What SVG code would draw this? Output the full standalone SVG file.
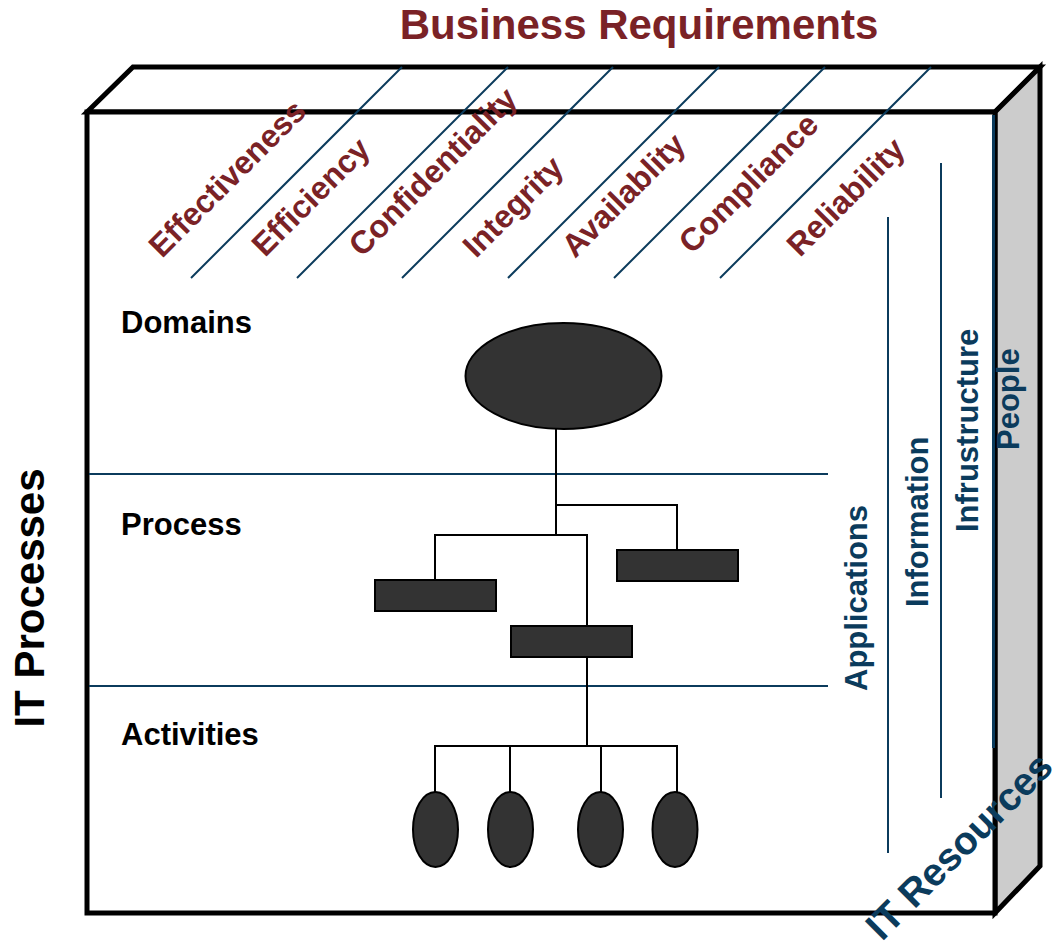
<svg xmlns="http://www.w3.org/2000/svg" width="1063" height="951" viewBox="0 0 1063 951">
<style>
.t{font-family:"Liberation Sans",Arial,sans-serif;font-weight:bold}
.red{fill:#7a2226}
.blue{fill:#0b3b5c}
.blk{fill:#000}
.edge{stroke:#000;stroke-width:5;stroke-linejoin:miter}
.bl{stroke:#0b3b5c;stroke-width:2;fill:none}
.cn{stroke:#000;stroke-width:2;fill:none}
.nd{fill:#333;stroke:#000;stroke-width:2}
</style>
<rect width="1063" height="951" fill="#fff"/>
<g id="cube">
<polygon class="edge" points="87,112 133,67 1040,67 995,112" fill="#fff"/>
<polygon class="edge" points="995,112 1040,67 1040,866 995,913" fill="#ccc"/>
<rect class="edge" x="87" y="112" width="908" height="801" fill="#fff"/>
<line x1="993.5" y1="115" x2="993.5" y2="748" stroke="#0b3b5c" stroke-width="3"/>
</g>
<g id="req-lines">
<line class="bl" x1="191" y1="278" x2="402" y2="67" stroke-width="1.5"/>
<line class="bl" x1="297" y1="278" x2="508" y2="67" stroke-width="1.5"/>
<line class="bl" x1="402" y1="278" x2="613" y2="67" stroke-width="1.5"/>
<line class="bl" x1="508" y1="278" x2="719" y2="67" stroke-width="1.5"/>
<line class="bl" x1="614" y1="278" x2="825" y2="67" stroke-width="1.5"/>
<line class="bl" x1="720" y1="278" x2="931" y2="67" stroke-width="1.5"/>
</g>
<g id="resource-lines">
<line class="bl" x1="888" y1="217" x2="888" y2="853"/>
<line class="bl" x1="941" y1="163" x2="941" y2="798"/>
</g>
<g id="level-lines">
<line class="bl" x1="89" y1="474" x2="828" y2="474"/>
<line class="bl" x1="89" y1="686" x2="828" y2="686"/>
</g>
<g id="title">
<text class="t red" x="639" y="39" font-size="42" text-anchor="middle">Business Requirements</text>
</g>
<g id="it-processes">
<text class="t blk" font-size="42" text-anchor="middle" transform="translate(44,598) rotate(-90)">IT Processes</text>
</g>
<g id="requirements">
<text class="t red" font-size="32" transform="translate(162,259) rotate(-45)">Effectiveness</text>
<text class="t red" font-size="32" transform="translate(265,258) rotate(-45)">Efficiency</text>
<text class="t red" font-size="32" transform="translate(362,258) rotate(-45)">Confidentiality</text>
<text class="t red" font-size="32" transform="translate(476,259) rotate(-45)">Integrity</text>
<text class="t red" font-size="32" transform="translate(575,259) rotate(-45)">Availablity</text>
<text class="t red" font-size="32" transform="translate(692,255) rotate(-45)">Compliance</text>
<text class="t red" font-size="32" transform="translate(800,258) rotate(-45)">Reliability</text>
</g>
<g id="levels">
<text class="t blk" x="121" y="333" font-size="31">Domains</text>
<text class="t blk" x="121" y="535" font-size="31">Process</text>
<text class="t blk" x="121" y="745" font-size="31">Activities</text>
</g>
<g id="resources">
<text class="t blue" font-size="31" transform="translate(867,691) rotate(-90)">Applications</text>
<text class="t blue" font-size="31" transform="translate(928,607) rotate(-90)">Information</text>
<text class="t blue" font-size="31" transform="translate(978,532) rotate(-90)">Infrustructure</text>
<text class="t blue" font-size="31" transform="translate(1019,450) rotate(-90)">People</text>
</g>
<g id="connectors">
<polyline class="cn" points="556,429 556,535"/>
<polyline class="cn" points="556,505 677,505 677,550"/>
<polyline class="cn" points="435,580 435,535 587,535 587,626"/>
<polyline class="cn" points="587,657 587,746"/>
<polyline class="cn" points="435,792 435,746 677,746 677,792"/>
<line class="cn" x1="510" y1="746" x2="510" y2="792"/>
<line class="cn" x1="601" y1="746" x2="601" y2="792"/>
</g>
<g id="domain-node"><ellipse class="nd" cx="563.5" cy="376" rx="98" ry="53"/></g>
<g id="process-1"><rect class="nd" x="375" y="580" width="121" height="31"/></g>
<g id="process-2"><rect class="nd" x="511" y="626" width="121" height="31"/></g>
<g id="process-3"><rect class="nd" x="617" y="550" width="121" height="31"/></g>
<g id="activity-1"><ellipse class="nd" cx="435.5" cy="829.5" rx="22.5" ry="37.5"/></g>
<g id="activity-2"><ellipse class="nd" cx="510.5" cy="829.5" rx="22.5" ry="37.5"/></g>
<g id="activity-3"><ellipse class="nd" cx="600.5" cy="829.5" rx="22.5" ry="37.5"/></g>
<g id="activity-4"><ellipse class="nd" cx="675" cy="829.5" rx="22.5" ry="37.5"/></g>
<g id="it-resources">
<text class="t blue" font-size="39" transform="translate(882,942) rotate(-45)">IT Resources</text>
</g>
</svg>
